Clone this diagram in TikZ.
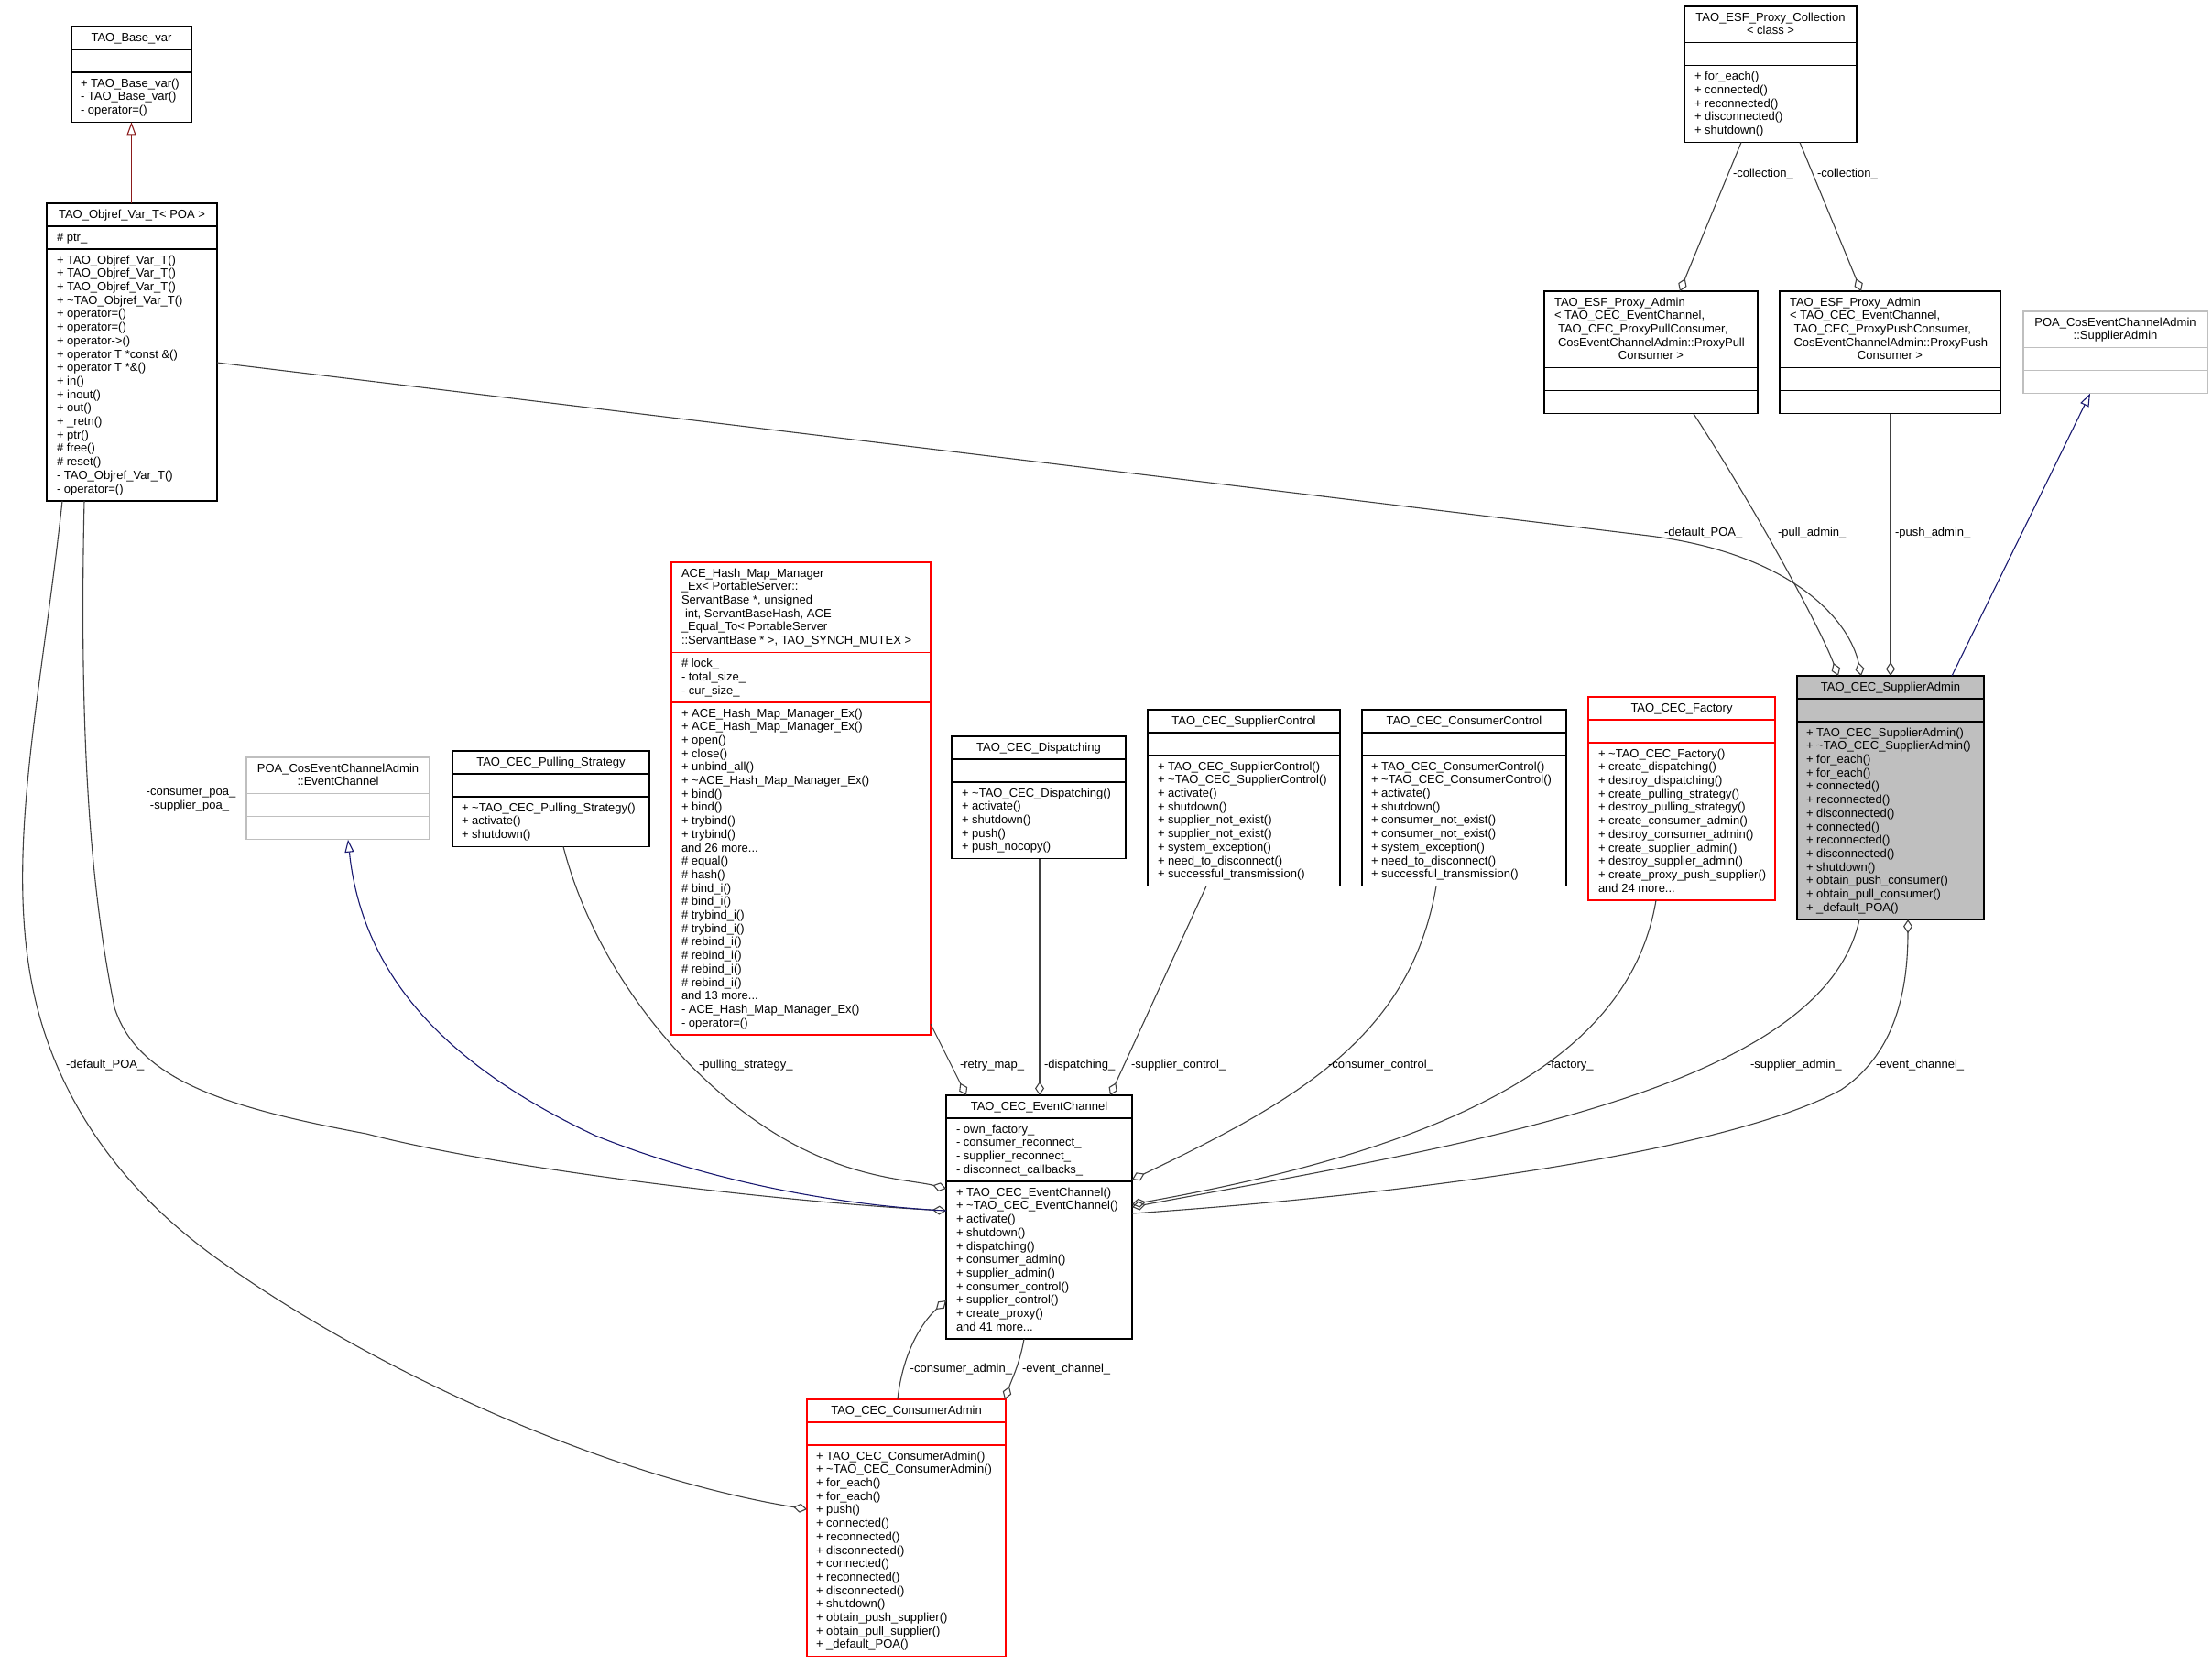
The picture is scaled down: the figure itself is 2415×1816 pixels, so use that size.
\documentclass[tikz,border=0pt]{standalone}
\usepackage{fontspec}
\setmainfont{Liberation Sans}
\usetikzlibrary{arrows.meta}
\definecolor{edgec}{HTML}{404040}
\definecolor{navyc}{HTML}{191970}
\definecolor{firec}{HTML}{8B1A1A}
\definecolor{lgray}{HTML}{BFBFBF}
\definecolor{boxred}{HTML}{FF0000}
\newcommand\tld{\textasciitilde}
\newcommand\mdots{.\kern0pt.\kern0pt.}
\tikzset{
 umlbox/.style={draw=black, fill=white, line width=1.3pt, rectangle, inner sep=0pt, outer sep=0pt, anchor=north west},
 redbox/.style={umlbox, draw=boxred},
 graybox/.style={umlbox, draw=lgray},
 selbox/.style={umlbox, fill=lgray},
 txt/.style={anchor=base west, inner sep=0pt, outer sep=0pt, font=\fontsize{13pt}{14.7pt}\selectfont},
 ctxt/.style={txt, anchor=base},
 lbl/.style={txt},
 agg/.style={draw=edgec, line width=1.1pt, -{Diamond[open, length=15pt, width=10pt]}},
 inhn/.style={draw=navyc, line width=1.1pt, -{Triangle[open, length=14pt, width=10pt]}},
 inhr/.style={draw=firec, line width=1.1pt, -{Triangle[open, length=14pt, width=10pt]}},
}
% name, style, x1, y1, x2, y2, sep1, sep2, separator colour
\newcommand\classbox[9]{%
  \pgfmathsetmacro\bw{#5-#3}\pgfmathsetmacro\bh{#6-#4}%
  \node[#2, minimum width=\bw pt, minimum height=\bh pt] (#1) at (#3,#4) {};
  \draw[draw=#9, line width=1.3pt] (#3,#7) -- (#5,#7) (#3,#8) -- (#5,#8);
}
% prefix, x, first baseline, list
\newcommand\members[4]{%
  \foreach \t [count=\i] in {#4} {\node[txt] (#1\i) at (#2,{#3+(\i-1)*14.7}) {\t};}%
}
\begin{document}
\begin{tikzpicture}[x=1pt,y=-1pt]
\fill[white] (0,0) rectangle (2415,1816);
\useasboundingbox (0,0) rectangle (2415,1816);

% ---------------- boxes ----------------
\classbox{base}{umlbox}{78}{29}{209}{133.4}{54}{79}{black}
\classbox{objref}{umlbox}{51}{222}{237}{546.9}{247}{272}{black}
\classbox{coll}{umlbox}{1839}{7}{2027}{155.5}{46.7}{71.7}{black}
\classbox{ad1}{umlbox}{1686}{318}{1919}{451.8}{401.8}{426.8}{black}
\classbox{ad2}{umlbox}{1943}{318}{2184}{451.8}{401.8}{426.8}{black}
\classbox{poasa}{graybox}{2209}{340}{2410}{429.7}{379.7}{404.7}{lgray}
\classbox{ace}{redbox}{733}{614}{1016}{1130}{712.5}{766.9}{boxred}
\classbox{poaec}{graybox}{269}{827}{469}{916.7}{866.7}{891.7}{lgray}
\classbox{pull}{umlbox}{494}{820}{709}{924.4}{845}{870}{black}
\classbox{disp}{umlbox}{1039}{804}{1229}{937.8}{829}{854}{black}
\classbox{sc}{umlbox}{1253}{775}{1463}{967.6}{800}{825}{black}
\classbox{cc}{umlbox}{1487}{775}{1710}{967.6}{800}{825}{black}
\classbox{fac}{redbox}{1734}{761}{1938}{983}{786}{811}{boxred}
\classbox{sa}{selbox}{1962}{738}{2166}{1004.1}{763}{788}{black}
\classbox{ec}{umlbox}{1033}{1196}{1236}{1462.1}{1221}{1290.1}{black}
\classbox{ca}{redbox}{881}{1528}{1098}{1808.8}{1553}{1578}{boxred}

% ---------------- connectors ----------------
\draw[inhr] ([xshift=92.5pt]objref.north west) -- ([xshift=65.5pt]base.south west);
\draw[agg] ([xshift=62pt]coll.south west) -- ([xshift=148pt]ad1.north west);
\draw[agg] ([xshift=126pt]coll.south west) -- ([xshift=89pt]ad2.north west);
\draw[agg] ([xshift=163pt]ad1.south west) .. controls (1910,545) and (1985,680) .. ([xshift=45pt]sa.north west);
\draw[agg] ([xshift=121pt]ad2.south west) -- ([xshift=102pt]sa.north west);
\draw[inhn] ([xshift=169pt]sa.north west) -- ([xshift=73pt]poasa.south west);
\draw[agg] ([yshift=-174pt]objref.north east) -- (1800,585) .. controls (1960,605) and (2020,680) .. ([xshift=70pt]sa.north west);
\draw[agg] ([xshift=41pt]objref.south west) .. controls (85,850) and (105,1000) .. (125,1100) .. controls (150,1180) and (250,1210) .. (400,1238) .. controls (550,1277) and (850,1312) .. ([yshift=-126pt]ec.north west);
\draw[agg] ([xshift=17pt]objref.south west) .. controls (45,760) and (5,930) .. (36,1080) .. controls (60,1196) and (130,1300) .. (245,1380) .. controls (400,1490) and (650,1610) .. ([yshift=-120pt]ca.north west);
\draw[inhn] ([yshift=-126pt]ec.north west) .. controls (950,1318) and (800,1300) .. (650,1240) .. controls (480,1160) and (395,1060) .. ([xshift=111pt]poaec.south west);
\draw[agg] ([xshift=121pt]pull.south west) .. controls (650,1060) and (750,1180) .. (850,1240) .. controls (930,1288) and (995,1288) .. ([yshift=-102pt]ec.north west);
\draw[agg] ([yshift=-504pt]ace.north east) -- ([xshift=22pt]ec.north west);
\draw[agg] ([xshift=96pt]disp.south west) -- ([xshift=102pt]ec.north west);
\draw[agg] ([xshift=64pt]sc.south west) -- ([xshift=179pt]ec.north west);
\draw[agg] ([xshift=81pt]cc.south west) .. controls (1540,1130) and (1420,1200) .. ([yshift=-92pt]ec.north east);
\draw[agg] ([xshift=74pt]fac.south west) .. controls (1780,1150) and (1600,1250) .. ([yshift=-119pt]ec.north east);
\draw[agg] ([xshift=68pt]sa.south west) .. controls (1990,1190) and (1600,1250) .. ([yshift=-122pt]ec.north east);
\draw[agg] ([yshift=-129pt]ec.north east) .. controls (1600,1300) and (1900,1250) .. (2010,1190) .. controls (2070,1150) and (2083,1080) .. ([xshift=121pt]sa.south west);
\draw[agg] ([xshift=99pt]ca.north west) .. controls (985,1480) and (1005,1445) .. ([yshift=-224pt]ec.north west);
\draw[agg] ([xshift=85pt]ec.south west) .. controls (1113,1490) and (1105,1505) .. ([xshift=216pt]ca.north west);

% ---------------- connector labels ----------------
\node[lbl] (l1) at (1892,193.4) {-collection\_};
\node[lbl] (l2) at (1984,193.4) {-collection\_};
\node[lbl] (l3) at (1817,585.4) {-default\_POA\_};
\node[lbl] (l4) at (1941,585.4) {-pull\_admin\_};
\node[lbl] (l5) at (2069,585.4) {-push\_admin\_};
\node[ctxt] (l6) at (208.5,868.4) {-consumer\_poa\_};
\node[ctxt] (l7) at (207,883.1) {-supplier\_poa\_};
\node[lbl] (l8) at (72,1166.4) {-default\_POA\_};
\node[lbl] (l9) at (763,1166.4) {-pulling\_strategy\_};
\node[lbl] (l10) at (1048,1166.4) {-retry\_map\_};
\node[lbl] (l11) at (1140,1166.4) {-dispatching\_};
\node[lbl] (l12) at (1235,1166.4) {-supplier\_control\_};
\node[lbl] (l13) at (1450,1166.4) {-consumer\_control\_};
\node[lbl] (l14) at (1689,1166.4) {-factory\_};
\node[lbl] (l15) at (1911,1166.4) {-supplier\_admin\_};
\node[lbl] (l16) at (2048,1166.4) {-event\_channel\_};
\node[lbl, anchor=base east] (l17) at (1105,1498.4) {-consumer\_admin\_};
\node[lbl] (l18) at (1116,1498.4) {-event\_channel\_};

% ---------------- box texts ----------------
% TAO_Base_var
\node[ctxt] (base-t) at (143.5,45.1) {TAO\_Base\_var};
\members{base-m}{88}{95.1}{+ TAO\_Base\_var(), - TAO\_Base\_var(), - operator=()}
% TAO_Objref_Var_T
\node[ctxt] (objref-t) at (144,238.1) {TAO\_Objref\_Var\_T< POA >};
\node[txt] (objref-a) at (62,263.1) {\# ptr\_};
\members{objref-m}{62}{288.1}{+ TAO\_Objref\_Var\_T(), + TAO\_Objref\_Var\_T(), + TAO\_Objref\_Var\_T(), + \tld TAO\_Objref\_Var\_T(), + operator=(), + operator=(), + operator->(), + operator T *const \&(), + operator T *\&(), + in(), + inout(), + out(), + \_retn(), + ptr(), \# free(), \# reset(), - TAO\_Objref\_Var\_T(), - operator=()}
% Collection
\node[ctxt] (coll-t1) at (1933,23.1) {TAO\_ESF\_Proxy\_Collection};
\node[ctxt] (coll-t2) at (1933,37.8) {< class >};
\members{coll-m}{1850}{87.8}{+ for\_each(), + connected(), + reconnected(), + disconnected(), + shutdown()}
% Admin 1
\node[txt] (ad1-t1) at (1697,334.1) {TAO\_ESF\_Proxy\_Admin};
\node[txt] (ad1-t2) at (1697,348.8) {< TAO\_CEC\_EventChannel,};
\node[txt] (ad1-t3) at (1701,363.5) {TAO\_CEC\_ProxyPullConsumer,};
\node[txt] (ad1-t4) at (1701,378.2) {CosEventChannelAdmin::ProxyPull};
\node[ctxt] (ad1-t5) at (1802.5,392.9) {Consumer >};
% Admin 2
\node[txt] (ad2-t1) at (1954,334.1) {TAO\_ESF\_Proxy\_Admin};
\node[txt] (ad2-t2) at (1954,348.8) {< TAO\_CEC\_EventChannel,};
\node[txt] (ad2-t3) at (1958.5,363.5) {TAO\_CEC\_ProxyPushConsumer,};
\node[txt] (ad2-t4) at (1958.5,378.2) {CosEventChannelAdmin::ProxyPush};
\node[ctxt] (ad2-t5) at (2063.5,392.9) {Consumer >};
% POA SupplierAdmin
\node[ctxt] (poasa-t1) at (2309.5,356.1) {POA\_CosEventChannelAdmin};
\node[ctxt] (poasa-t2) at (2309.5,370.8) {::SupplierAdmin};
% ACE hash map
\node[txt] (ace-t1) at (744,630.1) {ACE\_Hash\_Map\_Manager};
\node[txt] (ace-t2) at (744,644.8) {\_Ex< PortableServer::};
\node[txt] (ace-t3) at (744,659.5) {ServantBase *, unsigned};
\node[txt] (ace-t4) at (748,674.2) {int, ServantBaseHash, ACE};
\node[txt] (ace-t5) at (744,688.9) {\_Equal\_To< PortableServer};
\node[txt] (ace-t6) at (744,703.6) {::ServantBase * >, TAO\_SYNCH\_MUTEX >};
\members{ace-a}{744}{728.6}{\# lock\_, - total\_size\_, - cur\_size\_}
\members{ace-m}{744}{783.0}{+ ACE\_Hash\_Map\_Manager\_Ex(), + ACE\_Hash\_Map\_Manager\_Ex(), + open(), + close(), + unbind\_all(), + \tld ACE\_Hash\_Map\_Manager\_Ex(), + bind(), + bind(), + trybind(), + trybind(), and 26 more\mdots, \# equal(), \# hash(), \# bind\_i(), \# bind\_i(), \# trybind\_i(), \# trybind\_i(), \# rebind\_i(), \# rebind\_i(), \# rebind\_i(), \# rebind\_i(), and 13 more\mdots, - ACE\_Hash\_Map\_Manager\_Ex(), - operator=()}
% POA EventChannel
\node[ctxt] (poaec-t1) at (369,843.1) {POA\_CosEventChannelAdmin};
\node[ctxt] (poaec-t2) at (369,857.8) {::EventChannel};
% Pulling strategy
\node[ctxt] (pull-t) at (601.5,836.1) {TAO\_CEC\_Pulling\_Strategy};
\members{pull-m}{504}{886.1}{+ \tld TAO\_CEC\_Pulling\_Strategy(), + activate(), + shutdown()}
% Dispatching
\node[ctxt] (disp-t) at (1134,820.1) {TAO\_CEC\_Dispatching};
\members{disp-m}{1050}{870.1}{+ \tld TAO\_CEC\_Dispatching(), + activate(), + shutdown(), + push(), + push\_nocopy()}
% SupplierControl
\node[ctxt] (sc-t) at (1358,791.1) {TAO\_CEC\_SupplierControl};
\members{sc-m}{1264}{841.1}{+ TAO\_CEC\_SupplierControl(), + \tld TAO\_CEC\_SupplierControl(), + activate(), + shutdown(), + supplier\_not\_exist(), + supplier\_not\_exist(), + system\_exception(), + need\_to\_disconnect(), + successful\_transmission()}
% ConsumerControl
\node[ctxt] (cc-t) at (1598.5,791.1) {TAO\_CEC\_ConsumerControl};
\members{cc-m}{1497}{841.1}{+ TAO\_CEC\_ConsumerControl(), + \tld TAO\_CEC\_ConsumerControl(), + activate(), + shutdown(), + consumer\_not\_exist(), + consumer\_not\_exist(), + system\_exception(), + need\_to\_disconnect(), + successful\_transmission()}
% Factory
\node[ctxt] (fac-t) at (1836,777.1) {TAO\_CEC\_Factory};
\members{fac-m}{1745}{827.1}{+ \tld TAO\_CEC\_Factory(), + create\_dispatching(), + destroy\_dispatching(), + create\_pulling\_strategy(), + destroy\_pulling\_strategy(), + create\_consumer\_admin(), + destroy\_consumer\_admin(), + create\_supplier\_admin(), + destroy\_supplier\_admin(), + create\_proxy\_push\_supplier(), and 24 more\mdots}
% SupplierAdmin
\node[ctxt] (sa-t) at (2064,754.1) {TAO\_CEC\_SupplierAdmin};
\members{sa-m}{1972}{804.1}{+ TAO\_CEC\_SupplierAdmin(), + \tld TAO\_CEC\_SupplierAdmin(), + for\_each(), + for\_each(), + connected(), + reconnected(), + disconnected(), + connected(), + reconnected(), + disconnected(), + shutdown(), + obtain\_push\_consumer(), + obtain\_pull\_consumer(), + \_default\_POA()}
% EventChannel
\node[ctxt] (ec-t) at (1134.5,1212.1) {TAO\_CEC\_EventChannel};
\members{ec-a}{1044}{1237.1}{- own\_factory\_, - consumer\_reconnect\_, - supplier\_reconnect\_, - disconnect\_callbacks\_}
\members{ec-m}{1044}{1306.2}{+ TAO\_CEC\_EventChannel(), + \tld TAO\_CEC\_EventChannel(), + activate(), + shutdown(), + dispatching(), + consumer\_admin(), + supplier\_admin(), + consumer\_control(), + supplier\_control(), + create\_proxy(), and 41 more\mdots}
% ConsumerAdmin
\node[ctxt] (ca-t) at (989.5,1544.1) {TAO\_CEC\_ConsumerAdmin};
\members{ca-m}{891}{1594.1}{+ TAO\_CEC\_ConsumerAdmin(), + \tld TAO\_CEC\_ConsumerAdmin(), + for\_each(), + for\_each(), + push(), + connected(), + reconnected(), + disconnected(), + connected(), + reconnected(), + disconnected(), + shutdown(), + obtain\_push\_supplier(), + obtain\_pull\_supplier(), + \_default\_POA()}
\end{tikzpicture}
\end{document}
